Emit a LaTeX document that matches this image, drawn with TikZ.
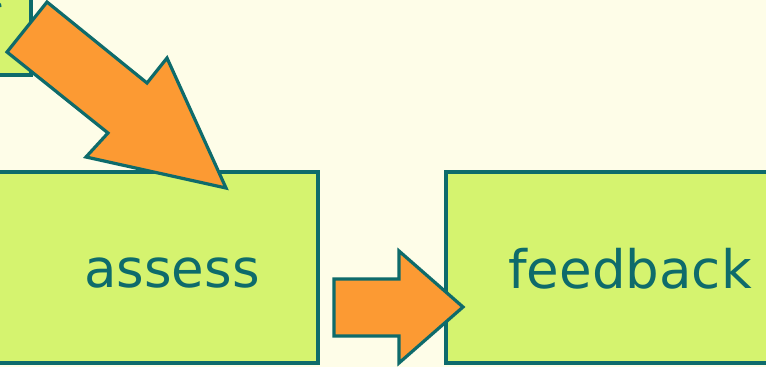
\documentclass[tikz,border=0pt]{standalone}
\usepackage{fontspec}
\setmainfont{DejaVu Sans}
\definecolor{bgcream}{HTML}{FEFDE8}
\definecolor{boxgreen}{HTML}{D5F36F}
\definecolor{tealline}{HTML}{0E6B6B}
\definecolor{arroworange}{HTML}{FC9A33}
\tikzset{
  stagebox/.style={draw=tealline, line width=3.2pt, fill=boxgreen},
  blockarrow/.style={draw=tealline, line width=3.2pt, fill=arroworange, line join=miter},
  stagelabel/.style={text=tealline, anchor=base, inner sep=0pt,
    font=\fontsize{53}{60}\selectfont}
}
\begin{document}
\begin{tikzpicture}[x=1pt,y=-1pt]
  \useasboundingbox (0,0) rectangle (766,367);
  \fill[bgcream] (0,0) rectangle (766,367);
  \begin{scope}
    \clip (0,0) rectangle (766,367);
    % previous stage, mostly outside the frame
    \draw[stagebox] (-60,-40) rectangle (31,75);
    \draw[tealline, line width=3.2pt] (-2,3) arc[start angle=-60, end angle=10, radius=4];
    % assess and feedback stages
    \draw[stagebox] (-3,172) rectangle (318,363);
    \node[stagelabel] (assess) at (172,287) {assess};
    \draw[stagebox] (446,172) rectangle (790,363);
    \node[stagelabel] (feedback) at (630,288) {feedback};
    % diagonal block arrow into assess
    \draw[blockarrow] (47,2) -- (147,83) -- (167,58) -- (226,188)
      -- (86,157) -- (108,133) -- (7,52) -- cycle;
    % block arrow from assess to feedback
    \draw[blockarrow] (334,279) -- (399,279) -- (399,251) -- (463,307)
      -- (399,363) -- (399,336) -- (334,336) -- cycle;
  \end{scope}
\end{tikzpicture}
\end{document}
